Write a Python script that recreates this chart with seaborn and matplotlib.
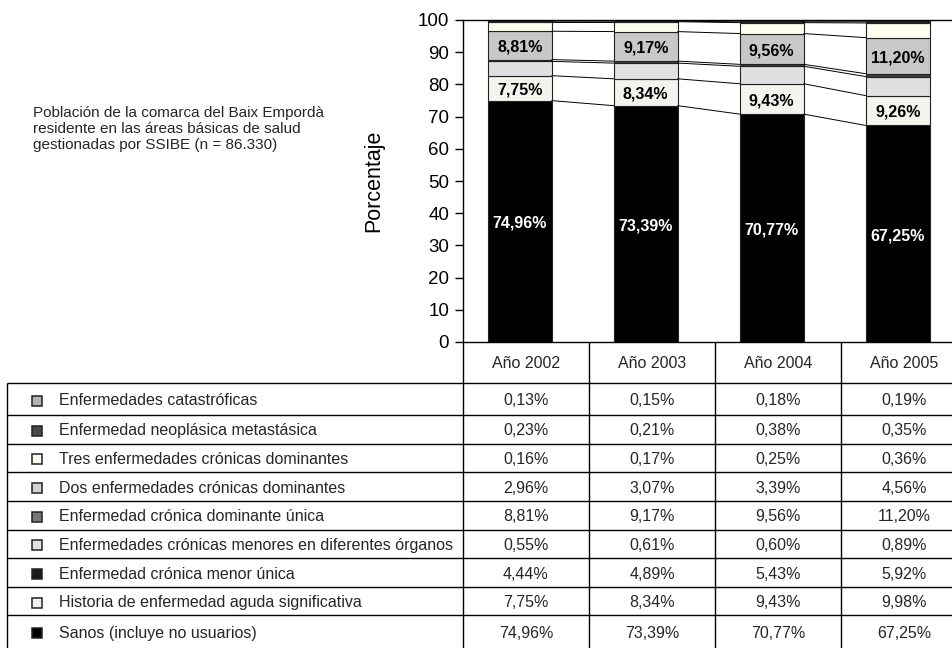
import numpy as np
import pandas as pd
import matplotlib
matplotlib.use("Agg")
import matplotlib.pyplot as plt
import seaborn as sns
from matplotlib.patches import Rectangle

# ---------------- data ----------------
years = ["Año 2002", "Año 2003", "Año 2004", "Año 2005"]

# table order (top to bottom)
categories = [
    "Enfermedades catastróficas",
    "Enfermedad neoplásica metastásica",
    "Tres enfermedades crónicas dominantes",
    "Dos enfermedades crónicas dominantes",
    "Enfermedad crónica dominante única",
    "Enfermedades crónicas menores en diferentes órganos",
    "Enfermedad crónica menor única",
    "Historia de enfermedad aguda significativa",
    "Sanos (incluye no usuarios)",
]
catastroficas = [0.13, 0.15, 0.18, 0.19]
neoplasica = [0.23, 0.21, 0.38, 0.35]
tres_cronicas = [0.16, 0.17, 0.25, 0.36]
dos_cronicas = [2.96, 3.07, 3.39, 4.56]
dominante_unica = [8.81, 9.17, 9.56, 11.20]
menores_diferentes = [0.55, 0.61, 0.60, 0.89]
menor_unica = [4.44, 4.89, 5.43, 5.92]
historia_aguda = [7.75, 8.34, 9.43, 9.98]
sanos = [74.96, 73.39, 70.77, 67.25]
# value plotted in the chart for "Historia" (chart label shows 9,26% in 2005)
historia_grafico = [7.75, 8.34, 9.43, 9.26]

description = [
    "Población de la comarca del Baix Empordà",
    "residente en las áreas básicas de salud",
    "gestionadas por SSIBE (n = 86.330)",
]

table_values = [catastroficas, neoplasica, tres_cronicas, dos_cronicas,
                dominante_unica, menores_diferentes, menor_unica,
                historia_aguda, sanos]
legend_colors = ["#b4b4b4", "#4a4a4a", "#fffff0", "#d2d2d2", "#777777",
                 "#e2e2e2", "#1a1a1a", "#f2f2f2", "#000000"]

# chart stacking (bottom to top)
chart_layers = [sanos, historia_grafico, menor_unica, menores_diferentes,
                dominante_unica, dos_cronicas, tres_cronicas, neoplasica,
                catastroficas]
chart_colors = ["#000000", "#f4f4ef", "#e0e0e0", "#404040", "#c8c8c8",
                "#fffff0", "#333333", "#404040", "#808080"]
labelled = {0: "white", 1: "black", 4: "black"}

# ---------------- style ----------------
sns.set_theme(style="white")
plt.rcParams["font.family"] = ["Liberation Sans", "DejaVu Sans"]

W, H = 953, 648
fig = plt.figure(figsize=(W / 100, H / 100), dpi=100)
fig.patch.set_facecolor("white")

# overlay axes in pixel coordinates for the table
ov = fig.add_axes([0, 0, 1, 1], zorder=0)
ov.set_xlim(0, W)
ov.set_ylim(H, 0)
ov.axis("off")
ov.patch.set_alpha(0)

ax = fig.add_axes([463 / W, 1 - 342 / H, 504 / W, 322 / H], zorder=1)
ax.patch.set_alpha(0)

bar_w = 0.508
bottom = np.zeros(len(years))
cums = []
for idx, (vals, col) in enumerate(zip(chart_layers, chart_colors)):
    d = pd.DataFrame({"year": years, "value": vals})
    sns.barplot(data=d, x="year", y="value", order=years, color=col,
                saturation=1, width=bar_w, bottom=bottom.copy(),
                edgecolor="#222222", linewidth=0.8, errorbar=None, ax=ax)
    v = np.array(vals, dtype=float)
    if idx in labelled:
        for i in range(len(years)):
            txt = f"{vals[i]:.2f}".replace(".", ",") + "%"
            ax.text(i, bottom[i] + v[i] / 2 - 0.6, txt, ha="center", va="center",
                    fontsize=11.5, fontweight="bold", color=labelled[idx],
                    zorder=5)
    bottom = bottom + v
    cums.append(bottom.copy())

# series lines between bars
for cum in cums:
    for i in range(len(years) - 1):
        ax.plot([i + bar_w / 2, i + 1 - bar_w / 2], [cum[i], cum[i + 1]],
                color="black", lw=0.7, zorder=3)

ax.set_xlim(-0.45, 3.55)
ax.set_ylim(0, 100)
ax.set_yticks(range(0, 101, 10))
ax.set_xticks([])
ax.set_xlabel("")
ax.tick_params(axis="y", left=True, direction="out", length=6, width=1,
               pad=4, labelsize=13.5, colors="black")
for s in ["left", "bottom", "top"]:
    ax.spines[s].set_visible(True)
    ax.spines[s].set_color("black")
    ax.spines[s].set_linewidth(1)
ax.spines["right"].set_visible(False)
ax.set_ylabel("Porcentaje", fontsize=15.5, color="black")
ax.yaxis.set_label_coords((384 - 463) / 504, 0.5)

# ---------------- table ----------------
col_edges = [463, 589, 715, 841, 967]
col_centers = [(col_edges[i] + col_edges[i + 1]) / 2 for i in range(4)]
row_edges = [383, 415] + [415 + 28.64 * k for k in range(1, 8)] + [H]

lk = dict(color="black", lw=1, solid_capstyle="butt")
for y in row_edges[:-1]:
    ov.plot([7.5, W], [y, y], **lk)
ov.plot([7.5, 7.5], [383, H], **lk)
for x in col_edges[:4]:
    ov.plot([x, x], [342, H], **lk)

for i, yr in enumerate(years):
    ov.text(col_centers[i], 363, yr, ha="center", va="center", fontsize=11.5)

for r, (name, vals, lc) in enumerate(zip(categories, table_values, legend_colors)):
    yc = (row_edges[r] + row_edges[r + 1]) / 2 + 1.5
    ov.add_patch(Rectangle((32, yc - 5), 10, 10, facecolor=lc,
                           edgecolor="#222222", lw=1.1))
    ov.text(59, yc, name, ha="left", va="center", fontsize=11.5)
    for i in range(len(years)):
        txt = f"{vals[i]:.2f}".replace(".", ",") + "%"
        ov.text(col_centers[i], yc, txt, ha="center", va="center", fontsize=11.5)

for k, line in enumerate(description):
    ov.text(33, 117 + 16 * k, line, ha="left", va="baseline", fontsize=11)

fig.savefig("out.png", dpi=100, facecolor="white")
